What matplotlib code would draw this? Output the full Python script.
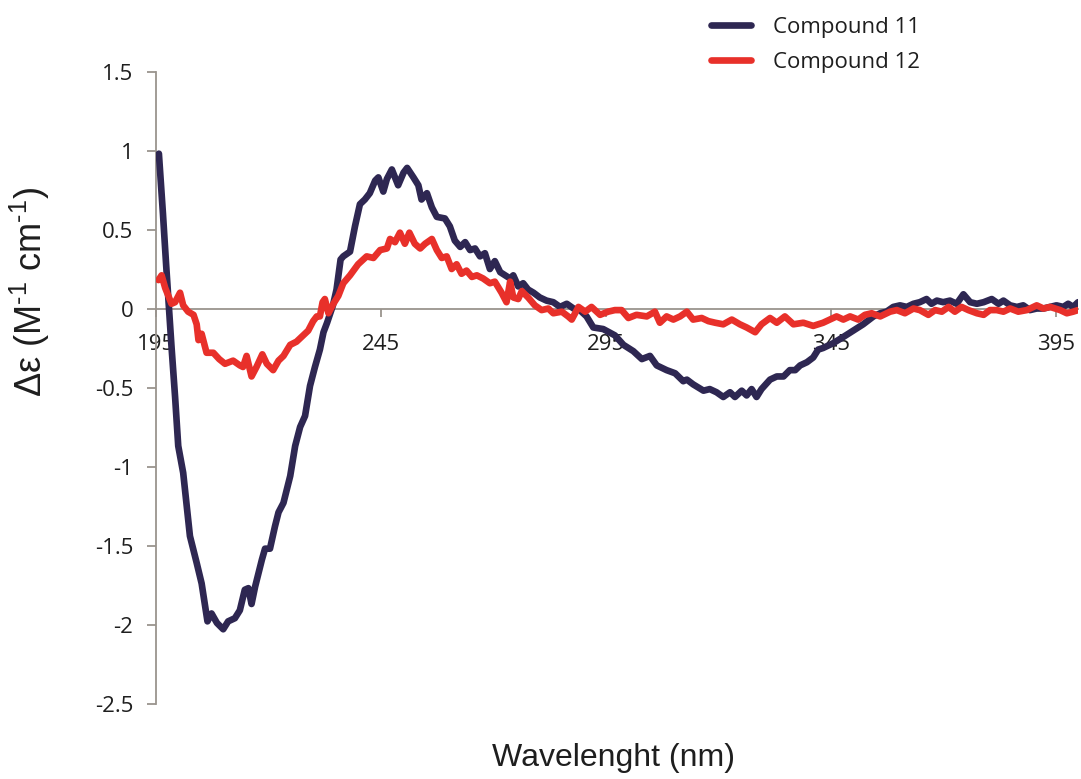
import matplotlib
matplotlib.use("Agg")
import matplotlib.pyplot as plt
from matplotlib.ticker import FuncFormatter, MultipleLocator

# CD spectra, wavelength (nm) vs delta-epsilon (M^-1 cm^-1)
wl_11 = [195.6, 196.5, 197.2, 197.8, 198.4, 199.2, 199.9, 201.0, 201.8, 202.5,
         204.0, 205.1, 205.9, 206.4, 207.3, 208.5, 209.9, 211.0, 212.5, 213.6,
         214.7, 215.5, 216.2, 217.0, 218.5, 219.2, 220.3, 221.4, 222.2, 223.3,
         224.8, 225.9, 227.0, 228.1, 229.2, 230.3, 231.4, 232.2, 233.0, 233.6,
         234.3, 235.1, 236.0, 236.6, 238.1, 239.2, 240.3, 241.4, 242.5, 243.7,
         244.4, 245.5, 246.3, 247.4, 248.8, 250.0, 250.8, 252.2, 253.3, 254.0,
         255.2, 256.3, 257.4, 259.2, 260.3, 261.4, 262.6, 263.7, 264.8, 265.9,
         267.0, 268.1, 269.2, 270.3, 271.5, 272.6, 273.7, 274.4, 275.5, 276.6,
         277.7, 278.9, 280.3, 281.8, 283.3, 284.8, 286.3, 287.8, 289.2, 290.7,
         292.2, 294.4, 297.0, 298.9, 301.1, 303.0, 304.8, 306.3, 308.5, 310.4,
         312.2, 313.0, 314.4, 316.7, 318.1, 319.6, 321.1, 322.6, 323.7, 325.2,
         326.3, 327.4, 328.5, 329.6, 331.5, 333.0, 334.5, 335.9, 337.1, 338.2,
         339.7, 341.1, 342.2, 343.3, 345.5, 347.8, 350.0, 352.2, 354.5, 356.0,
         357.4, 358.9, 360.4, 361.9, 363.4, 364.8, 366.3, 367.4, 368.6, 370.0,
         371.5, 373.0, 374.5, 376.0, 377.5, 379.0, 380.8, 382.3, 383.4, 384.9,
         386.4, 387.8, 389.3, 390.8, 392.3, 393.8, 395.2, 396.7, 397.8, 398.9,
         400.0]
de_11 = [0.98, 0.60, 0.28, 0.02, -0.24, -0.56, -0.87, -1.04, -1.25, -1.44,
         -1.61, -1.74, -1.89, -1.98, -1.93, -1.99, -2.03, -1.98, -1.96, -1.91,
         -1.78, -1.77, -1.87, -1.76, -1.59, -1.52, -1.52, -1.38, -1.29, -1.23,
         -1.06, -0.87, -0.75, -0.68, -0.49, -0.37, -0.26, -0.15, -0.09, -0.04,
         0.02, 0.12, 0.31, 0.33, 0.36, 0.52, 0.66, 0.69, 0.73, 0.81,
         0.83, 0.74, 0.82, 0.88, 0.78, 0.86, 0.89, 0.83, 0.78, 0.69,
         0.73, 0.64, 0.58, 0.57, 0.52, 0.43, 0.39, 0.42, 0.37, 0.38,
         0.33, 0.35, 0.25, 0.30, 0.23, 0.21, 0.19, 0.21, 0.14, 0.16,
         0.12, 0.10, 0.07, 0.05, 0.04, 0.01, 0.03, 0.00, -0.01, -0.05,
         -0.12, -0.13, -0.17, -0.23, -0.27, -0.32, -0.30, -0.36, -0.39, -0.41,
         -0.46, -0.45, -0.48, -0.52, -0.51, -0.53, -0.56, -0.53, -0.56, -0.52,
         -0.55, -0.51, -0.56, -0.51, -0.45, -0.43, -0.43, -0.39, -0.39, -0.36,
         -0.34, -0.31, -0.26, -0.25, -0.22, -0.18, -0.14, -0.10, -0.05, -0.03,
         -0.02, 0.01, 0.02, 0.01, 0.03, 0.04, 0.06, 0.03, 0.05, 0.04,
         0.05, 0.03, 0.09, 0.04, 0.03, 0.04, 0.06, 0.03, 0.05, 0.02,
         0.01, 0.02, -0.01, 0.00, 0.00, 0.01, 0.02, 0.01, 0.03, 0.01,
         0.04]

wl_12 = [195.5, 196.2, 197.0, 198.4, 199.2, 200.3, 201.0, 202.1, 203.3, 204.0,
         204.4, 205.1, 206.2, 207.7, 209.0, 210.3, 212.1, 213.6, 214.3, 215.1,
         216.2, 217.3, 218.6, 219.6, 221.0, 222.2, 223.3, 224.8, 226.2, 227.7,
         228.8, 229.9, 230.7, 231.4, 232.0, 232.5, 233.3, 234.4, 235.5, 236.6,
         238.1, 239.9, 241.8, 243.3, 244.8, 246.3, 247.0, 248.1, 249.2, 250.3,
         251.3, 252.5, 253.7, 254.8, 256.3, 257.4, 258.5, 259.6, 260.7, 261.8,
         262.9, 264.0, 265.2, 266.3, 267.7, 269.2, 270.3, 271.8, 272.9, 273.7,
         274.4, 275.5, 276.3, 277.7, 279.2, 280.7, 282.2, 283.3, 285.2, 286.6,
         287.4, 288.9, 290.4, 291.8, 293.7, 295.5, 297.0, 298.5, 300.0, 301.8,
         304.1, 305.9, 307.0, 308.5, 310.0, 311.5, 313.0, 314.4, 316.3, 317.8,
         319.3, 321.1, 323.0, 324.8, 326.3, 328.2, 329.6, 331.5, 333.0, 334.8,
         336.7, 338.9, 341.1, 342.2, 343.3, 344.8, 346.3, 347.8, 349.3, 351.1,
         352.6, 354.1, 356.0, 358.2, 359.7, 361.5, 363.4, 364.8, 366.7, 368.2,
         369.7, 371.2, 372.6, 374.1, 375.6, 377.5, 379.0, 380.4, 381.9, 383.4,
         384.9, 386.7, 388.6, 390.8, 392.3, 393.8, 396.0, 397.5, 398.9, 400.0]
de_12 = [0.18, 0.21, 0.13, 0.03, 0.04, 0.10, 0.02, -0.02, -0.04, -0.10,
         -0.20, -0.16, -0.28, -0.28, -0.32, -0.35, -0.33, -0.36, -0.37, -0.30,
         -0.43, -0.37, -0.29, -0.35, -0.39, -0.33, -0.30, -0.23, -0.21, -0.17,
         -0.14, -0.08, -0.05, -0.05, 0.04, 0.06, -0.03, 0.03, 0.08, 0.16,
         0.21, 0.28, 0.33, 0.32, 0.37, 0.38, 0.44, 0.42, 0.48, 0.41,
         0.48, 0.41, 0.38, 0.41, 0.44, 0.37, 0.32, 0.33, 0.25, 0.28,
         0.22, 0.24, 0.20, 0.21, 0.19, 0.16, 0.17, 0.10, 0.04, 0.17,
         0.07, 0.06, 0.11, 0.07, 0.02, -0.01, 0.00, -0.03, -0.02, -0.05,
         -0.07, 0.01, -0.02, 0.01, -0.04, -0.02, -0.01, -0.01, -0.06, -0.04,
         -0.05, -0.02, -0.09, -0.05, -0.07, -0.05, -0.02, -0.07, -0.06, -0.08,
         -0.09, -0.10, -0.07, -0.10, -0.12, -0.15, -0.10, -0.06, -0.09, -0.05,
         -0.10, -0.09, -0.11, -0.10, -0.09, -0.07, -0.05, -0.07, -0.05, -0.07,
         -0.04, -0.03, -0.05, -0.02, -0.01, -0.03, 0.00, -0.01, -0.04, -0.01,
         -0.02, 0.01, -0.02, 0.01, -0.01, -0.03, -0.04, -0.01, -0.01, -0.02,
         0.00, -0.02, -0.01, 0.02, 0.00, 0.01, -0.01, -0.03, -0.02, -0.01]

series_labels = ["Compound 11", "Compound 12"]
series_colors = ["#2E2752", "#E8302A"]
x_ticks = [195, 245, 295, 345, 395]

AXIS_GRAY = "#9A948E"
TEXT_COLOR = "#1E1E1E"
TICK_FONT = "Open Sans"
TITLE_FONT = "Liberation Sans"

plt.rcParams["mathtext.fontset"] = "custom"
plt.rcParams["mathtext.rm"] = TITLE_FONT
plt.rcParams["mathtext.default"] = "regular"

fig = plt.figure(figsize=(10.81, 7.79), dpi=100)
ax = fig.add_axes([0.1445, 0.0969, 0.8528, 0.8113])

line_kw = dict(lw=4.8, solid_joinstyle="round", solid_capstyle="round")
h11, = ax.plot(wl_11, de_11, color=series_colors[0], label=series_labels[0], zorder=3, **line_kw)
h12, = ax.plot(wl_12, de_12, color=series_colors[1], label=series_labels[1], zorder=4, **line_kw)

ax.set_xlim(195, 400)
ax.set_ylim(-2.5, 1.5)
ax.set_axisbelow(True)

for side in ("top", "right"):
    ax.spines[side].set_visible(False)
ax.spines["left"].set_color(AXIS_GRAY)
ax.spines["left"].set_linewidth(1.3)
ax.spines["bottom"].set_position(("data", 0))
ax.spines["bottom"].set_color(AXIS_GRAY)
ax.spines["bottom"].set_linewidth(1.3)

ax.set_xticks(x_ticks)
ax.yaxis.set_major_locator(MultipleLocator(0.5))
ax.yaxis.set_major_formatter(FuncFormatter(lambda v, p: f"{v:g}"))

ax.tick_params(axis="x", direction="out", length=6, width=1.3, color=AXIS_GRAY,
               pad=12, labelsize=16, labelcolor=TEXT_COLOR)
ax.tick_params(axis="y", direction="out", length=6.5, width=1.3, color=AXIS_GRAY,
               pad=10, labelsize=16, labelcolor=TEXT_COLOR)
for lbl in ax.get_xticklabels() + ax.get_yticklabels():
    lbl.set_family(TICK_FONT)

fig.text(613 / 1081, 1 - 758 / 779, "Wavelenght (nm)", family=TITLE_FONT,
         fontsize=23, ha="center", va="center", color=TEXT_COLOR)
fig.text(30 / 1081, 1 - 292 / 779,
         r"Δε (M$^{\text{-1}}$ cm$^{\text{-1}}$)", family=TITLE_FONT, fontsize=26,
         rotation=90, ha="center", va="center", color=TEXT_COLOR)

leg = fig.legend(handles=[h11, h12], loc="upper left",
                 bbox_to_anchor=(702 / 1081, 1 - 8 / 779), frameon=False,
                 prop={"family": TICK_FONT, "size": 16}, handlelength=1.8,
                 handletextpad=1.0, labelspacing=0.62, borderaxespad=0)
for t in leg.get_texts():
    t.set_color(TEXT_COLOR)

fig.savefig("out.png", dpi=100)
